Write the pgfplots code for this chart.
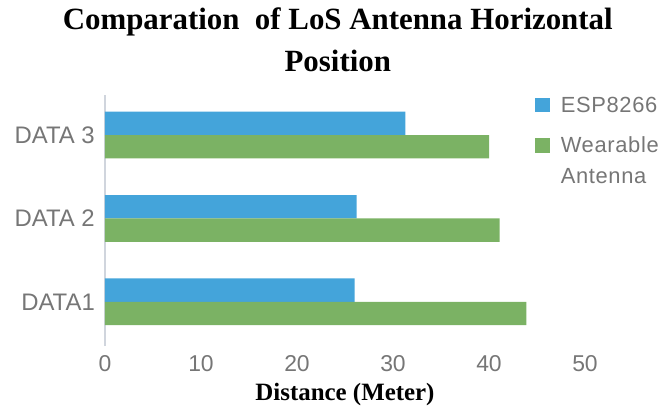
\documentclass[border=0pt]{standalone}
\usepackage{fontspec}
\setmainfont{Liberation Serif}
\newfontfamily\sansf{Liberation Sans}
\newfontfamily\sansls[LetterSpace=3]{Liberation Sans}
\usepackage{pgfplots}
\pgfplotsset{compat=1.18}
\definecolor{espblue}{RGB}{68,164,218}
\definecolor{weargreen}{RGB}{123,178,100}
\definecolor{txtgray}{RGB}{118,118,118}
\definecolor{axgray}{RGB}{208,213,221}
\begin{document}
\begin{tikzpicture}
\useasboundingbox (-105bp,-60bp) rectangle (562bp,346bp);
\begin{axis}[
  at={(0,0)}, anchor=south west,
  scale only axis, width=480bp, height=251bp,
  xbar, bar width=0.28,
  xmin=0, xmax=50, ymin=-0.53, ymax=2.48,
  xtick={0,10,20,30,40,50},
  ytick={0,1,2}, yticklabels={DATA1, DATA 2, DATA 3},
  /pgf/number format/assume math mode=true,
  axis y line*=left, axis x line*=bottom,
  x axis line style={draw=none},
  y axis line style={draw=axgray, line width=1.6bp, -},
  major tick length=0pt,
  xticklabel style={font=\sansf\fontsize{23}{26}\selectfont, text=txtgray, anchor=base, inner sep=0pt, yshift=-25bp},
  yticklabel style={font=\sansf\fontsize{24}{28}\selectfont, text=txtgray, anchor=east, inner sep=0pt, xshift=-10bp},
  xlabel={Distance (Meter)},
  xlabel style={font=\bfseries\fontsize{25}{28}\selectfont, at={(axis description cs:0.5,0)}, anchor=base, inner sep=0pt, yshift=-54bp},
  title={Comparation\ \ of LoS Antenna Horizontal\\Position},
  title style={font=\bfseries\fontsize{31}{42}\selectfont, align=center, at={(axis description cs:0.485,1.324)}, anchor=north, inner sep=0pt},
  legend style={at={(axis description cs:0.896,1.0)}, anchor=north west, draw=none, fill=none, inner sep=0pt,
    font=\sansls\fontsize{22}{31}\selectfont, text=txtgray, row sep=13bp, column sep=9bp,
    cells={anchor=base west, inner sep=0pt}},
]
\addplot[fill=espblue, draw=none, bar shift=0.14,
  legend image code/.code={\fill[espblue] (0bp,0bp) rectangle (14.5bp,14.5bp);}]
  coordinates {(26.0,0) (26.2,1) (31.3,2)};
\addlegendentry{ESP8266}
\addplot[fill=weargreen, draw=none, bar shift=-0.14,
  legend image code/.code={\fill[weargreen] (0bp,0bp) rectangle (14.5bp,14.5bp);}]
  coordinates {(43.9,0) (41.1,1) (40.0,2)};
\addlegendentry{\begin{tabular}[t]{@{}l@{}}Wearable\\Antenna\end{tabular}}
\end{axis}
\end{tikzpicture}
\end{document}
